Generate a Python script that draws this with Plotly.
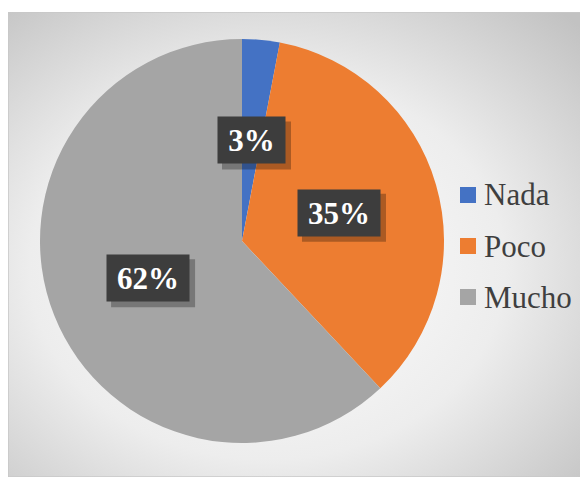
import base64, math
import plotly.graph_objects as go

labels = ["Nada", "Poco", "Mucho"]
values = [3, 35, 62]
colors = ["#4472C4", "#ED7D31", "#A5A5A5"]
pct_text = ["3%", "35%", "62%"]

# page body has an 8px margin: figure starts at (8, 8) of the window
OFF = 8
W, H = 580, 469
SERIF = "'Liberation Serif', 'Times New Roman', Times, serif"
# pie geometry (window pixels)
cx_px, cy_px, R_px = 242, 241, 202


def px(x):
    return (x - OFF) / W


def py(y):
    return 1 - (y - OFF) / H


svg = f'''<svg xmlns="http://www.w3.org/2000/svg" width="577" height="465" viewBox="0 0 577 465">
<defs><radialGradient id="g" cx="0.45" cy="0.55" r="0.75">
<stop offset="0" stop-color="#ffffff"/>
<stop offset="0.55" stop-color="#ededed"/>
<stop offset="1" stop-color="#c2c2c2"/>
</radialGradient></defs>
<rect x="0" y="0" width="577" height="465" fill="url(#g)" stroke="#c8c8c8" stroke-width="1.5"/>
</svg>'''
src = "data:image/svg+xml;base64," + base64.b64encode(svg.encode()).decode()

fig = go.Figure(go.Pie(
    labels=labels, values=values, sort=False, direction="clockwise", rotation=0,
    marker=dict(colors=colors, line=dict(width=0)),
    textinfo="none", hoverinfo="label+percent", showlegend=False,
    domain=dict(x=[px(cx_px - R_px), px(cx_px + R_px)],
                y=[py(cy_px + R_px), py(cy_px - R_px)]),
))

total = sum(values)
cum = 0
annotations = []
shapes = []
for v, t in zip(values, pct_text):
    a = 2 * math.pi * (cum + v / 2) / total
    cum += v
    lx = cx_px + 0.5 * R_px * math.sin(a)
    ly = cy_px - 0.5 * R_px * math.cos(a)
    bw = 15 * len(t) + 25
    # soft drop shadow behind the label box
    sw, sh, so = bw + 14, 48, 5
    shapes.append(dict(type="rect", xref="paper", yref="paper", layer="above",
                       x0=px(lx - sw / 2 + so), x1=px(lx + sw / 2 + so),
                       y0=py(ly + sh / 2 + so), y1=py(ly - sh / 2 + so),
                       fillcolor="rgba(0,0,0,0.28)", line=dict(width=0)))
    annotations.append(dict(x=px(lx), y=py(ly), xref="paper", yref="paper", showarrow=False,
                            xanchor="center", yanchor="middle", width=bw, height=34, borderpad=6,
                            text=f"<b>{t}</b>",
                            font=dict(family=SERIF, size=31, color="white"),
                            bgcolor="#3d3d3d"))

# legend (drawn manually to match the original entry spacing)
leg_x_px, leg_y0_px, leg_dy_px, sq = 460, 195, 51, 16
for i, (lab, col) in enumerate(zip(labels, colors)):
    yc = leg_y0_px + i * leg_dy_px
    shapes.append(dict(type="rect", xref="paper", yref="paper",
                       x0=px(leg_x_px), x1=px(leg_x_px + sq),
                       y0=py(yc + sq / 2), y1=py(yc - sq / 2),
                       fillcolor=col, line=dict(width=0)))
    annotations.append(dict(x=px(leg_x_px + sq + 6), y=py(yc), xref="paper", yref="paper",
                            text=lab, showarrow=False, xanchor="left", yanchor="middle",
                            font=dict(family=SERIF, size=31, color="#3f3f3f")))

fig.update_layout(
    width=W, height=H, margin=dict(l=0, r=0, t=0, b=0),
    paper_bgcolor="white", plot_bgcolor="rgba(0,0,0,0)",
    images=[dict(source=src, xref="paper", yref="paper", x=px(8), y=py(12),
                 sizex=577 / W, sizey=465 / H, xanchor="left", yanchor="top",
                 sizing="stretch", layer="below")],
    annotations=annotations, shapes=shapes,
    showlegend=False,
)

fig.write_html("out.html")
